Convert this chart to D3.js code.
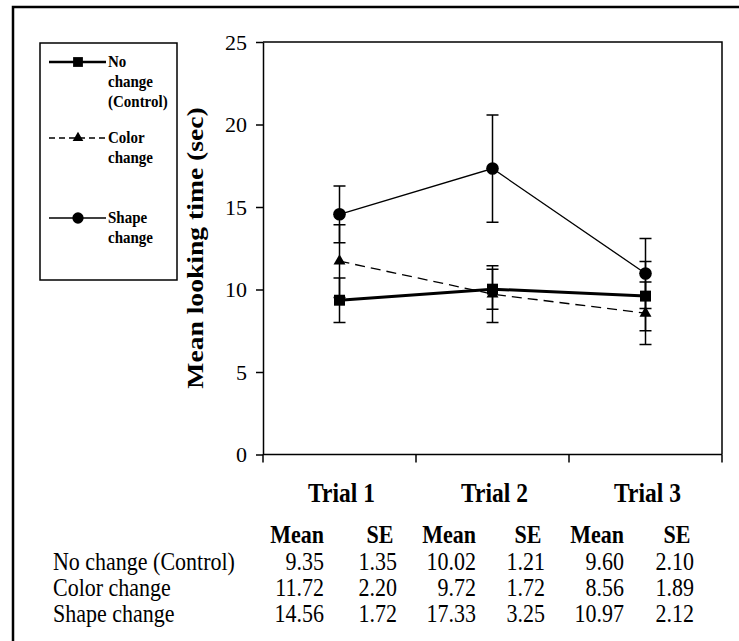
<!DOCTYPE html>
<html>
<head>
<meta charset="utf-8">
<script src="https://cdn.jsdelivr.net/npm/d3@7"></script>
<style>
body { margin: 0; background: #fff; }
svg { display: block; font-family: "Liberation Serif", "Times New Roman", serif; }
</style>
</head>
<body>
<svg id="svg" width="739" height="641"></svg>
<script>
// data
const trials = ["Trial 1", "Trial 2", "Trial 3"];
const seriesNames = ["No change (Control)", "Color change", "Shape change"];
const noChangeMean = [9.35, 10.02, 9.60];
const noChangeSE = [1.35, 1.21, 2.10];
const colorMean = [11.72, 9.72, 8.56];
const colorSE = [2.20, 1.72, 1.89];
const shapeMean = [14.56, 17.33, 10.97];
const shapeSE = [1.72, 3.25, 2.12];
const yTicks = [0, 5, 10, 15, 20, 25];
const legendLabels = [["No", "change", "(Control)"], ["Color", "change"], ["Shape", "change"]];

const series = [
    {name: seriesNames[0], mean: noChangeMean, se: noChangeSE},
    {name: seriesNames[1], mean: colorMean, se: colorSE},
    {name: seriesNames[2], mean: shapeMean, se: shapeSE},
];
const styles = [
    {symbol: d3.symbolSquare, size: 120, width: 3, dash: null},
    {symbol: d3.symbolTriangle, size: 62, width: 1.3, dash: "10,6"},
    {symbol: d3.symbolCircle, size: 125, width: 1.3, dash: null},
];

const svg = d3.select("#svg");

// outer frame (only top and left edges show)
svg.append("path")
    .attr("d", "M13,641V7H739")
    .attr("fill", "none")
    .attr("stroke", "#000")
    .attr("stroke-width", 2.5);

const x = d3.scaleBand().domain(trials).range([263, 722]);
const y = d3.scaleLinear().domain([0, 25]).range([454.5, 42]);

// plot box top + right
svg.append("path")
    .attr("d", `M${x.range()[0]},${y(25)}H${x.range()[1]}V${y(0)}`)
    .attr("fill", "none")
    .attr("stroke", "#000")
    .attr("stroke-width", 1.5);

// y axis
const yAxis = svg.append("g")
    .attr("transform", `translate(${x.range()[0]},0)`)
    .call(d3.axisLeft(y).tickValues(yTicks).tickSize(7).tickPadding(9).tickSizeOuter(0));
yAxis.select(".domain").attr("stroke-width", 1.5);
yAxis.selectAll(".tick line").attr("stroke-width", 1.5);
yAxis.selectAll("text")
    .attr("font-family", "Liberation Serif")
    .attr("font-size", 22)
    .attr("dy", "0.34em")
    .attr("fill", "#000");

// x axis: line + ticks at category boundaries
const bounds = trials.map(t => x(t)).concat([x.range()[1]]);
svg.append("line")
    .attr("x1", x.range()[0]).attr("x2", x.range()[1])
    .attr("y1", y(0)).attr("y2", y(0))
    .attr("stroke", "#000").attr("stroke-width", 1.5);
svg.selectAll(".xtick")
    .data(bounds)
    .join("line")
    .attr("class", "xtick")
    .attr("x1", d => d).attr("x2", d => d)
    .attr("y1", y(0)).attr("y2", y(0) + 8)
    .attr("stroke", "#000").attr("stroke-width", 1.5);

svg.append("text")
    .attr("transform", "translate(203,248) rotate(-90) scale(1.15,1)")
    .attr("text-anchor", "middle")
    .attr("font-weight", "bold")
    .attr("font-size", 24)
    .text("Mean looking time (sec)");

// series
const cx = d => x(d) + x.bandwidth() / 2;
const line = d3.line().x((v, i) => cx(trials[i])).y(v => y(v));

series.forEach((s, k) => {
    const st = styles[k];
    const g = svg.append("g");
    g.append("path")
        .attr("d", line(s.mean))
        .attr("fill", "none")
        .attr("stroke", "#000")
        .attr("stroke-width", st.width)
        .attr("stroke-dasharray", st.dash);
    const pts = s.mean.map((m, i) => ({t: trials[i], m: m, se: s.se[i]}));
    g.selectAll(".err")
        .data(pts)
        .join("path")
        .attr("class", "err")
        .attr("d", p => {
            const px = cx(p.t), lo = y(p.m - p.se), hi = y(p.m + p.se);
            return `M${px},${lo}V${hi}M${px - 6},${hi}H${px + 6}M${px - 6},${lo}H${px + 6}`;
        })
        .attr("fill", "none")
        .attr("stroke", "#000")
        .attr("stroke-width", 1.5);
    g.selectAll(".mark")
        .data(pts)
        .join("path")
        .attr("class", "mark")
        .attr("transform", p => `translate(${cx(p.t)},${y(p.m)})`)
        .attr("d", d3.symbol().type(st.symbol).size(st.size));
});

// legend
svg.append("rect")
    .attr("x", 40).attr("y", 43).attr("width", 137).attr("height", 237)
    .attr("fill", "none").attr("stroke", "#000").attr("stroke-width", 1.5);
const legendY = [62, 138, 218];
legendLabels.forEach((lines, k) => {
    const st = styles[k];
    const g = svg.append("g").attr("transform", `translate(0,${legendY[k]})`);
    g.append("line")
        .attr("x1", 49).attr("x2", 106)
        .attr("stroke", "#000")
        .attr("stroke-width", k === 0 ? 2.5 : 1.3)
        .attr("stroke-dasharray", k === 1 ? "6,4" : null);
    g.append("path")
        .attr("transform", "translate(78,0)")
        .attr("d", d3.symbol().type(st.symbol).size(st.size * 0.8));
    g.selectAll("text")
        .data(lines)
        .join("text")
        .attr("transform", (d, i) => `translate(108,${5 + i * 20}) scale(1,1.1)`)
        .attr("font-weight", "bold")
        .attr("font-size", 15)
        .text(d => d);
});

// stretched text helper for the table below the plot
const put = (tx, ty, str, anchor, bold) => svg.append("text")
    .attr("transform", `translate(${tx},${ty}) scale(1,1.15)`)
    .attr("text-anchor", anchor)
    .attr("font-weight", bold ? "bold" : null)
    .attr("font-size", bold === "trial" ? 23.5 : 22)
    .text(str);

trials.forEach(t => put(cx(t) + 2, 502, t, "middle", "trial"));

const fmt = d3.format(".2f");
const meanRight = [324, 476, 624];
const seRight = [397, 545, 694];
const headY = 543, rowY0 = 570, rowStep = 26;

trials.forEach((t, i) => {
    put(meanRight[i], headY, "Mean", "end", true);
    put(seRight[i] - 17, headY, "SE", "middle", true);
});

series.forEach((s, r) => {
    const ty = rowY0 + r * rowStep;
    put(53, ty, s.name, "start", false);
    s.mean.forEach((m, i) => {
        put(meanRight[i], ty, fmt(m), "end", false);
        put(seRight[i], ty, fmt(s.se[i]), "end", false);
    });
});
</script>
</body>
</html>
